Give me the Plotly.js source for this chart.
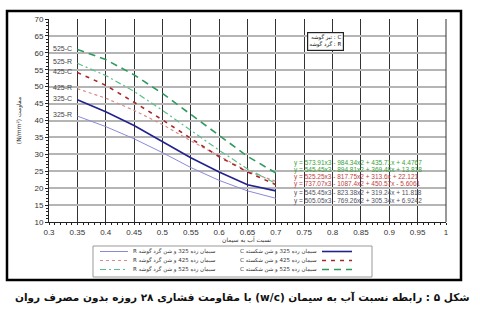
<!DOCTYPE html>
<html>
<head>
<meta charset="utf-8">
<script src="https://cdn.plot.ly/plotly-3.0.1.min.js"></script>
<style>html,body{margin:0;padding:0;background:#fff;}#chart{width:480px;height:315px;}</style>
</head>
<body>
<div id="chart"></div>
<script>
// water/cement ratio
const wc = [0.35, 0.40, 0.45, 0.50, 0.55, 0.60, 0.65, 0.70];
// 28-day compressive strength (N/mm2)
const s325R = [41.3, 38.2, 34.6, 30.5, 26.1, 22.3, 19.2, 17.0];
const s325C = [46.1, 42.6, 38.5, 33.8, 29.0, 24.8, 21.0, 19.2];
const s425R = [49.4, 46.6, 43.0, 38.8, 34.0, 29.5, 25.0, 22.0];
const s425C = [54.2, 50.4, 45.4, 40.2, 34.7, 29.3, 24.8, 21.0];
const s525R = [56.9, 53.3, 48.6, 43.0, 37.1, 31.2, 25.7, 21.4];
const s525C = [61.0, 58.0, 53.5, 48.0, 41.8, 35.5, 29.4, 24.5];

const seriesNames = [
  "سیمان رده 325 و شن گرد گوشه R",
  "سیمان رده 325 و شن شکسته C",
  "سیمان رده 425 و شن گرد گوشه R",
  "سیمان رده 425 و شن شکسته C",
  "سیمان رده 525 و شن گرد گوشه R",
  "سیمان رده 525 و شن شکسته C"
];
const lineLabels = ["325-R", "325-C", "425-R", "425-C", "525-R", "525-C"];
const equations = [
  "y = 573.91x3 - 984.34x2 + 435.71x + 4.4767",
  "y = 545.45x3 - 894.81x2 + 369.48x + 13.818",
  "y = 525.25x3 - 817.75x2 + 313.6x + 22.121",
  "y = 737.07x3 - 1087.4x2 + 450.57x - 5.6061",
  "y = 545.45x3 - 823.38x2 + 319.24x + 11.818",
  "y = 505.05x3 - 769.26x2 + 305.34x + 6.9242"
];
const xTitle = "نسبت آب به سیمان";
const yTitle = "(N/mm²) مقاومت";
const keyLines = ["C : تیز گوشه", "R : گرد گوشه"];
const caption = "شکل ۵ : رابطه نسبت آب به سیمان (w/c) با مقاومت فشاری ۲۸ روزه بدون مصرف روان";

const RLE = "\u202B", PDF = "\u202C";
const rtl = t => RLE + t + PDF;
const PX = p => (p - 49) / 397;
const PY = p => (222 - p) / 203;

const allSeries = [s325R, s325C, s425R, s425C, s525R, s525C];
const styles = [
  {color: "#8a8ad8", width: 1, dash: "solid"},
  {color: "#22228f", width: 1.6, dash: "solid"},
  {color: "#d88a8a", width: 1.2, dash: "dot"},
  {color: "#a82828", width: 1.6, dash: "4px,5px"},
  {color: "#5cbf8a", width: 1.2, dash: "6px,3px,2px,3px"},
  {color: "#2e9a5e", width: 1.6, dash: "7px,5px"}
];

const traces = allSeries.map((s, i) => ({
  x: wc, y: s, type: "scatter", mode: "lines", name: seriesNames[i],
  line: styles[i], showlegend: false
}));

const eqColors = ["#3aa03a", "#3aa03a", "#c04040", "#c04040", "#505060", "#505060"];
const eqY = [163, 169.5, 176.5, 184, 192.5, 201];
const annotations = [];
const shapes = [
  {type: "rect", xref: "paper", yref: "paper", x0: PX(7), x1: PX(461), y0: PY(280), y1: PY(11),
   line: {color: "#000", width: 2.5}},
  {type: "line", xref: "paper", yref: "paper", x0: 1, x1: 1, y0: 0, y1: 1, line: {color: "#333", width: 1}}
];
// line labels at the left
allSeries.forEach((s, i) => {
  annotations.push({x: 0.3245, y: s[0] + 0.4, xref: "x", yref: "y", text: lineLabels[i],
    xanchor: "center", yanchor: "middle",
    showarrow: false, font: {family: "Liberation Sans", size: 7, color: "#444"}});
});
// equations
equations.forEach((t, i) => {
  annotations.push({x: PX(292), y: PY(eqY[i]), xref: "paper", yref: "paper",
    xanchor: "left", yanchor: "middle", text: t, showarrow: false,
    font: {family: "Liberation Sans", size: 6.5, color: eqColors[i]}});
});
// C/R key box
annotations.push({x: PX(325), y: PY(42), xref: "paper", yref: "paper", xanchor: "center", yanchor: "middle",
  text: rtl(keyLines[0]) + "<br>" + rtl(keyLines[1]), showarrow: false, align: "right",
  bgcolor: "#fff", bordercolor: "#222", borderwidth: 1.2, borderpad: 1,
  font: {family: "DejaVu Sans", size: 5.5, color: "#111"}});
// x axis title (placed explicitly)
annotations.push({x: PX(247), y: PY(240), xref: "paper", yref: "paper", xanchor: "center", yanchor: "middle",
  text: rtl(xTitle), showarrow: false, font: {family: "DejaVu Sans", size: 6, color: "#333"}});
// caption
annotations.push({x: PX(242), y: PY(297), xref: "paper", yref: "paper", xanchor: "center", yanchor: "middle",
  text: "<b>" + rtl(caption) + "</b>", showarrow: false,
  font: {family: "DejaVu Sans", size: 10.5, color: "#111"}});

// manual legend (two columns, three rows)
shapes.push({type: "rect", xref: "paper", yref: "paper", x0: PX(93), x1: PX(372), y0: PY(277), y1: PY(246),
  line: {color: "#999", width: 1}, fillcolor: "rgba(0,0,0,0)"});
const rowY = [251.5, 260.5, 269.5];
seriesNames.forEach((n, i) => {
  const row = Math.floor(i / 2), col = i % 2;
  const py = rowY[row];
  let lx0, lx1, tx, anchor;
  if (col === 0) { lx0 = 100; lx1 = 128; tx = 131; anchor = "left"; }
  else { lx0 = 322; lx1 = 352; tx = 319; anchor = "right"; }
  shapes.push({type: "line", xref: "paper", yref: "paper", x0: PX(lx0), x1: PX(lx1), y0: PY(py), y1: PY(py),
    line: {color: styles[i].color, width: styles[i].width, dash: styles[i].dash}});
  annotations.push({x: PX(tx), y: PY(py), xref: "paper", yref: "paper", xanchor: anchor, yanchor: "middle",
    text: rtl(n), showarrow: false, font: {family: "DejaVu Sans", size: 5.5, color: "#333"}});
});

const layout = {
  width: 480, height: 315,
  margin: {l: 49, r: 34, t: 19, b: 93},
  paper_bgcolor: "#fff", plot_bgcolor: "#fff",
  showlegend: false,
  xaxis: {range: [0.3, 1.0], dtick: 0.05, tick0: 0.3, showgrid: true, gridcolor: "#333", gridwidth: 1,
    zeroline: false, showline: true, linecolor: "#222", linewidth: 1,
    ticks: "outside", ticklen: 2, tickcolor: "#222",
    minor: {dtick: 0.01, ticks: "outside", ticklen: 2, tickcolor: "#222", showgrid: false},
    tickfont: {family: "Liberation Sans", size: 8, color: "#333"}},
  yaxis: {range: [10, 70], dtick: 5, tick0: 10, showgrid: true, gridcolor: "#b5b5b5", gridwidth: 2,
    zeroline: false, showline: true, linecolor: "#222", linewidth: 1,
    ticks: "outside", ticklen: 3, tickcolor: "#222",
    minor: {dtick: 1, ticks: "outside", ticklen: 2, tickcolor: "#222", showgrid: false},
    tickfont: {family: "Liberation Sans", size: 8, color: "#333"},
    title: {text: yTitle, font: {family: "DejaVu Sans", size: 6, color: "#333"}, standoff: 12}},
  shapes: shapes,
  annotations: annotations
};

Plotly.newPlot("chart", traces, layout, {displayModeBar: false, staticPlot: true});
</script>
</body>
</html>
